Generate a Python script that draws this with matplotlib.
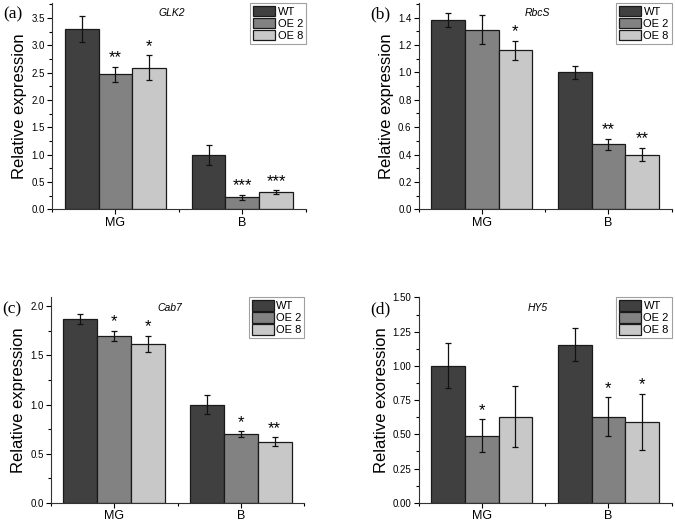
import matplotlib
matplotlib.use("Agg")
import matplotlib.pyplot as plt
import numpy as np
from matplotlib.ticker import AutoMinorLocator, FixedLocator

plt.rcParams['font.family'] = ['Liberation Sans', 'DejaVu Sans']

groups = ["MG", "B"]
genotypes = ["WT", "OE 2", "OE 8"]
colors = ["#404040", "#828282", "#c8c8c8"]

# rows = genotype (WT, OE 2, OE 8), cols = group (MG, B)
glk2_mean = [[3.30, 1.00], [2.47, 0.22], [2.59, 0.32]]
glk2_err = [[0.24, 0.18], [0.14, 0.05], [0.23, 0.03]]
glk2_sig = [["", ""], ["**", "***"], ["*", "***"]]

rbcs_mean = [[1.38, 1.00], [1.31, 0.475], [1.16, 0.40]]
rbcs_err = [[0.05, 0.05], [0.105, 0.04], [0.07, 0.05]]
rbcs_sig = [["", ""], ["", "**"], ["*", "**"]]

cab7_mean = [[1.875, 1.00], [1.70, 0.70], [1.62, 0.62]]
cab7_err = [[0.05, 0.10], [0.05, 0.03], [0.08, 0.045]]
cab7_sig = [["", ""], ["*", "*"], ["*", "**"]]

hy5_mean = [[1.00, 1.155], [0.49, 0.63], [0.63, 0.59]]
hy5_err = [[0.165, 0.12], [0.12, 0.14], [0.22, 0.205]]
hy5_sig = [["", ""], ["*", "*"], ["", "*"]]

panels = [
    ("(a)", "GLK2", glk2_mean, glk2_err, glk2_sig, 3.77, 0.5, "%.1f", "Relative expression"),
    ("(b)", "RbcS", rbcs_mean, rbcs_err, rbcs_sig, 1.505, 0.2, "%.1f", "Relative expression"),
    ("(c)", "Cab7", cab7_mean, cab7_err, cab7_sig, 2.09, 0.5, "%.1f", "Relative expression"),
    ("(d)", "HY5", hy5_mean, hy5_err, hy5_sig, 1.50, 0.25, "%.2f", "Relative exoression"),
]

# axes boxes in figure fraction [left, bottom, width, height]
boxes = [
    [0.077, 0.598, 0.376, 0.396],
    [0.620, 0.598, 0.375, 0.396],
    [0.075, 0.035, 0.376, 0.394],
    [0.620, 0.035, 0.375, 0.394],
]

fig = plt.figure(figsize=(6.75, 5.21), dpi=100)
x = np.arange(len(groups))
w = 0.266

for (lab, gene, mean, err, sig, ytop, step, fmt, ylab), box in zip(panels, boxes):
    ax = fig.add_axes(box)
    for i, g in enumerate(genotypes):
        pos = x + (i - 1) * w
        ax.bar(pos, mean[i], width=w, color=colors[i], edgecolor="#1a1a1a",
               linewidth=0.9, label=g, zorder=2)
        ax.errorbar(pos, mean[i], yerr=err[i], fmt="none", ecolor="#111111",
                    elinewidth=0.9, capsize=2.2, capthick=0.9, zorder=3)
        for j in range(len(groups)):
            if sig[i][j]:
                ax.annotate(sig[i][j], (pos[j], mean[i][j] + err[i][j]),
                            xytext=(0, 1), textcoords="offset points",
                            ha="center", va="bottom", fontsize=12)
    ax.set_xlim(-0.5, 1.5)
    ax.set_ylim(0, ytop)
    ax.set_xticks(x)
    ax.set_xticklabels(groups, fontsize=9)
    ax.xaxis.set_minor_locator(FixedLocator([-0.5, 0.5, 1.5]))
    ax.set_yticks(np.arange(0, ytop + 1e-6, step))
    ax.yaxis.set_major_formatter(matplotlib.ticker.FormatStrFormatter(fmt))
    ax.yaxis.set_minor_locator(AutoMinorLocator(2))
    ax.tick_params(axis="y", labelsize=7, length=3.5, width=0.8, direction="out", pad=1.5)
    ax.tick_params(axis="x", length=3.5, width=0.8, direction="out", pad=2)
    ax.tick_params(which="minor", length=2.5, width=0.8)
    for s in ["top", "right"]:
        ax.spines[s].set_visible(False)
    for s in ["left", "bottom"]:
        ax.spines[s].set_linewidth(0.8)
        ax.spines[s].set_color("#333333")
    ax.set_ylabel(ylab, fontsize=12, labelpad=3)
    ax.text(0.47, 0.975, gene, transform=ax.transAxes, ha="center", va="top",
            fontsize=7.5, style="italic")
    leg = ax.legend(loc="upper right", fontsize=8, frameon=True, fancybox=False,
                    borderaxespad=0, borderpad=0.25, labelspacing=0.1,
                    handlelength=2.0, handleheight=1.05, handletextpad=0.2)
    leg.get_frame().set_edgecolor("#888888")
    leg.get_frame().set_linewidth(0.8)
    fig.text(box[0] - 0.072, box[1] + box[3] - 0.022, lab, family="Liberation Serif",
             fontsize=12.5, ha="left", va="center")

fig.savefig("out.png", dpi=100)
